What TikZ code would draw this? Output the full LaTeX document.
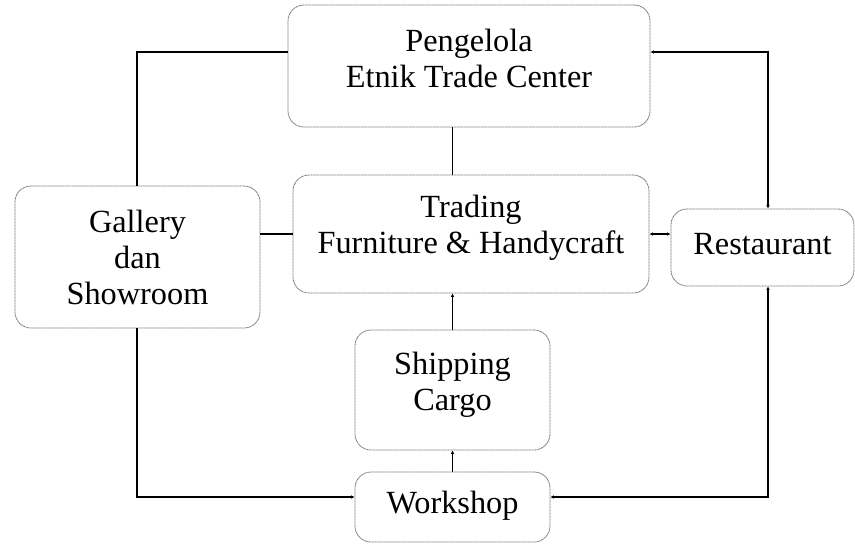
\documentclass[tikz,border=0pt]{standalone}
\usepackage{fontspec}
\setmainfont{Liberation Serif}
\usetikzlibrary{arrows.meta,calc}
\begin{document}
\begin{tikzpicture}[x=1pt,y=-1pt,
  box/.style={draw=black!55, line width=0.8pt, dash pattern=on 1pt off 0.5pt,
    rounded corners=16pt, inner sep=0pt},
  txt/.style={align=center, inner sep=0pt, font=\fontsize{32.3}{36}\selectfont},
  link/.style={draw=black, line width=1.5pt},
  tip/.style={-{Latex[length=3.5pt,width=3.5pt]}},
  tipback/.style={{Latex[length=3.5pt,width=3.5pt]}-},
  tips/.style={{Latex[length=3.5pt,width=3.5pt]}-{Latex[length=3.5pt,width=3.5pt]}}]
\useasboundingbox[fill=white] (0,0) rectangle (855,550);

\node[box, minimum width=362pt, minimum height=122pt] (peng) at (469,66) {};
\node[box, minimum width=356pt, minimum height=118pt] (trad) at (471,234) {};
\node[box, minimum width=245pt, minimum height=142pt] (gall) at (137.5,257) {};
\node[box, minimum width=183pt, minimum height=77pt] (rest) at (762.5,247.5) {};
\node[box, minimum width=195pt, minimum height=120pt] (ship) at (452.5,390) {};
\node[box, minimum width=195pt, minimum height=70pt] (work) at (452.5,507) {};

\node[txt] (pengT) at ([yshift=8pt]peng.center) {Pengelola\\Etnik Trade Center};
\node[txt] (tradT) at ([yshift=6pt]trad.center) {Trading\\Furniture \& Handycraft};
\node[txt] (gallT) at ([yshift=0pt]gall.center) {Gallery\\dan\\Showroom};
\node[txt] (restT) at ([yshift=3pt]rest.center) {Restaurant};
\node[txt] (shipT) at ([yshift=5pt]ship.center) {Shipping\\Cargo};
\node[txt] (workT) at ([yshift=1pt]work.center) {Workshop};

\coordinate (c1) at (137,52);
\coordinate (c2) at (768,52);
\coordinate (c3) at (137,497);
\coordinate (c4) at (768,497);

% Gallery to Pengelola
\draw[link] (gall.north -| c1) -- (c1) -- (peng.west |- c1);
% Pengelola to Restaurant
\draw[link, tips] (peng.east |- c2) -- (c2) -- (rest.north -| c2);
% Pengelola to Trading
\draw[link] (peng.south -| ship.north) -- (trad.north -| ship.north);
% Gallery to Trading
\draw[link] (gall.east |- trad.west) -- (trad.west);
% Trading to Restaurant
\draw[link, tips] (trad.east) -- (rest.west |- trad.east);
% Trading to Shipping
\draw[link, tipback] (trad.south -| ship.north) -- (ship.north);
% Shipping to Workshop
\draw[link, tipback] (ship.south) -- (work.north);
% Gallery to Workshop
\draw[link, tip] (gall.south -| c3) -- (c3) -- (work.west |- c3);
% Workshop to Restaurant
\draw[link, tips] (work.east |- c4) -- (c4) -- (rest.south -| c4);
\end{tikzpicture}
\end{document}
